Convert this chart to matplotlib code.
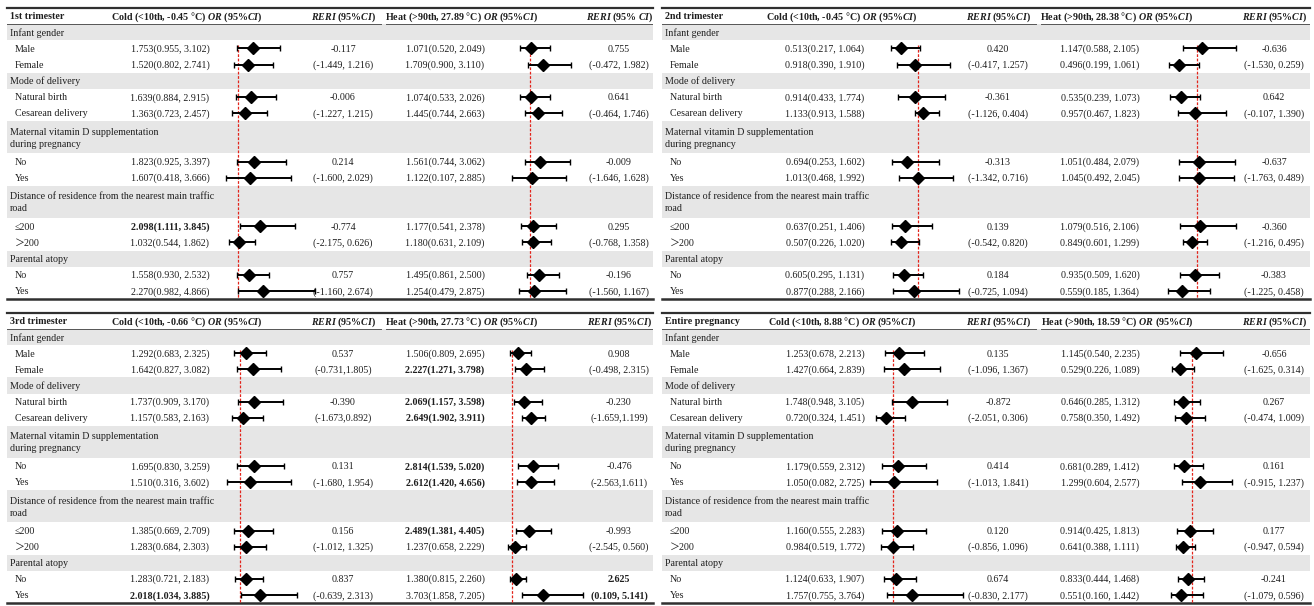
import numpy as np
import matplotlib
matplotlib.use("Agg")
import matplotlib.pyplot as plt

plt.rcParams['font.family'] = ['Liberation Serif', 'Noto Sans CJK SC']
plt.rcParams['mathtext.fontset'] = 'custom'
plt.rcParams['mathtext.it'] = 'Liberation Serif:italic:bold'
plt.rcParams['mathtext.rm'] = 'Liberation Serif:bold'

W, H = 1314, 606
FS = 7.2
INK = '#1e1e1e'

# row structure shared by all four tables
group_labels = ["Infant gender", "Mode of delivery",
                "Maternal vitamin D supplementation\nduring pregnancy",
                "Distance of residence from the nearest main traffic\nroad",
                "Parental atopy"]
group_rows = [1, 4, 7, 11, 15]
group_height = [1, 1, 2, 2, 1]
row_labels = ["Male", "Female", "Natural birth", "Cesarean delivery", "No", "Yes",
              "≤200", "＞200", "No", "Yes"]
data_rows = np.array([2, 3, 5, 6, 9, 10, 13, 14, 16, 17])
n_lines = 18

titles = ["1st trimester", "2nd trimester", "3rd trimester", "Entire pregnancy"]
cold_cut = ["-0.45", "-0.45", "-0.66", "8.88"]
heat_cut = ["27.89", "28.38", "27.73", "18.59"]

# OR, lower, upper
t1_cold = [[1.753, 0.955, 3.102], [1.520, 0.802, 2.741], [1.639, 0.884, 2.915],
           [1.363, 0.723, 2.457], [1.823, 0.925, 3.397], [1.607, 0.418, 3.666],
           [2.098, 1.111, 3.845], [1.032, 0.544, 1.862], [1.558, 0.930, 2.532],
           [2.270, 0.982, 4.866]]
t1_heat = [[1.071, 0.520, 2.049], [1.709, 0.900, 3.110], [1.074, 0.533, 2.026],
           [1.445, 0.744, 2.663], [1.561, 0.744, 3.062], [1.122, 0.107, 2.885],
           [1.177, 0.541, 2.378], [1.180, 0.631, 2.109], [1.495, 0.861, 2.500],
           [1.254, 0.479, 2.875]]
t2_cold = [[0.513, 0.217, 1.064], [0.918, 0.390, 1.910], [0.914, 0.433, 1.774],
           [1.133, 0.913, 1.588], [0.694, 0.253, 1.602], [1.013, 0.468, 1.992],
           [0.637, 0.251, 1.406], [0.507, 0.226, 1.020], [0.605, 0.295, 1.131],
           [0.877, 0.288, 2.166]]
t2_heat = [[1.147, 0.588, 2.105], [0.496, 0.199, 1.061], [0.535, 0.239, 1.073],
           [0.957, 0.467, 1.823], [1.051, 0.484, 2.079], [1.045, 0.492, 2.045],
           [1.079, 0.516, 2.106], [0.849, 0.601, 1.299], [0.935, 0.509, 1.620],
           [0.559, 0.185, 1.364]]
t3_cold = [[1.292, 0.683, 2.325], [1.642, 0.827, 3.082], [1.737, 0.909, 3.170],
           [1.157, 0.583, 2.163], [1.695, 0.830, 3.259], [1.510, 0.316, 3.602],
           [1.385, 0.669, 2.709], [1.283, 0.684, 2.303], [1.283, 0.721, 2.183],
           [2.018, 1.034, 3.885]]
t3_heat = [[1.506, 0.809, 2.695], [2.227, 1.271, 3.798], [2.069, 1.157, 3.598],
           [2.649, 1.902, 3.911], [2.814, 1.539, 5.020], [2.612, 1.420, 4.656],
           [2.489, 1.381, 4.405], [1.237, 0.658, 2.229], [1.380, 0.815, 2.260],
           [3.703, 1.858, 7.205]]
t4_cold = [[1.253, 0.678, 2.213], [1.427, 0.664, 2.839], [1.748, 0.948, 3.105],
           [0.720, 0.324, 1.451], [1.179, 0.559, 2.312], [1.050, 0.082, 2.725],
           [1.160, 0.555, 2.283], [0.984, 0.519, 1.772], [1.124, 0.633, 1.907],
           [1.757, 0.755, 3.764]]
t4_heat = [[1.145, 0.540, 2.235], [0.529, 0.226, 1.089], [0.646, 0.285, 1.312],
           [0.758, 0.350, 1.492], [0.681, 0.289, 1.412], [1.299, 0.604, 2.577],
           [0.914, 0.425, 1.813], [0.641, 0.388, 1.111], [0.833, 0.444, 1.468],
           [0.551, 0.160, 1.442]]

# rows printed in bold
t1_cold_bold = [6]
t3_cold_bold = [9]
t3_heat_bold = [1, 2, 3, 4, 5, 6]

# RERI per group: estimate, CI text
t1_cold_reri = [("-0.117", "(-1.449, 1.216)"), ("-0.006", "(-1.227, 1.215)"),
                ("0.214", "(-1.600, 2.029)"), ("-0.774", "(-2.175, 0.626)"),
                ("0.757", "(-1.160, 2.674)")]
t1_heat_reri = [("0.755", "(-0.472, 1.982)"), ("0.641", "(-0.464, 1.746)"),
                ("-0.009", "(-1.646, 1.628)"), ("0.295", "(-0.768, 1.358)"),
                ("-0.196", "(-1.560, 1.167)")]
t2_cold_reri = [("0.420", "(-0.417, 1.257)"), ("-0.361", "(-1.126, 0.404)"),
                ("-0.313", "(-1.342, 0.716)"), ("0.139", "(-0.542, 0.820)"),
                ("0.184", "(-0.725, 1.094)")]
t2_heat_reri = [("-0.636", "(-1.530, 0.259)"), ("0.642", "(-0.107, 1.390)"),
                ("-0.637", "(-1.763, 0.489)"), ("-0.360", "(-1.216, 0.495)"),
                ("-0.383", "(-1.225, 0.458)")]
t3_cold_reri = [("0.537", "(-0.731,1.805)"), ("-0.390", "(-1.673,0.892)"),
                ("0.131", "(-1.680, 1.954)"), ("0.156", "(-1.012, 1.325)"),
                ("0.837", "(-0.639, 2.313)")]
t3_heat_reri = [("0.908", "(-0.498, 2.315)"), ("-0.230", "(-1.659,1.199)"),
                ("-0.476", "(-2.563,1.611)"), ("-0.993", "(-2.545, 0.560)"),
                ("2.625", "(0.109, 5.141)")]
t4_cold_reri = [("0.135", "(-1.096, 1.367)"), ("-0.872", "(-2.051, 0.306)"),
                ("0.414", "(-1.013, 1.841)"), ("0.120", "(-0.856, 1.096)"),
                ("0.674", "(-0.830, 2.177)")]
t4_heat_reri = [("-0.656", "(-1.625, 0.314)"), ("0.267", "(-0.474, 1.009)"),
                ("0.161", "(-0.915, 1.237)"), ("0.177", "(-0.947, 0.594)"),
                ("-0.241", "(-1.079, 0.596)")]
t3_heat_reri_bold = [4]


def px_rect(x0, y0, x1, y1):
    return [x0 / W, 1 - y1 / H, (x1 - x0) / W, (y1 - y0) / H]


def forest(fig, rect, x0, x1, ref, scale, est):
    # OR = 1 sits at pixel `ref`, `scale` pixels per unit of OR
    ax = fig.add_axes(rect)
    ax.set_xlim(1 - (ref - x0) / scale, 1 + (x1 - ref) / scale)
    ax.set_ylim(n_lines, 0)
    ax.axis('off')
    ax.patch.set_visible(False)
    est = np.array(est)
    ax.vlines(1, 2.3, n_lines, colors='#e3241b', linestyles=(0, (2.2, 1.3)), lw=0.9)
    ax.errorbar(est[:, 0], data_rows + 0.5,
                xerr=[est[:, 0] - est[:, 1], est[:, 2] - est[:, 0]],
                fmt='D', ms=5.8, color='black', elinewidth=1.4,
                capsize=2.2, capthick=1.0)
    return ax


def draw_table(fig, box, title, ccut, hcut, cold, heat, cold_reri, heat_reri,
               cold_ref, heat_ref, cold_bold=(), heat_bold=(), reri_bold=(),
               heat_reri_head=r"$\mathit{RERI}$ (95%$\mathit{CI}$)"):
    x0, y0, x1, y1 = box
    w = x1 - x0
    rect = px_rect(x0, y0, x1, y1)
    ax = fig.add_axes(rect)
    ax.set_xlim(0, w)
    ax.set_ylim(n_lines, 0)
    ax.axis('off')

    for g, h in zip(group_rows, group_height):
        ax.axhspan(g, g + h, color='#e6e6e6', lw=0)
    ax.plot([0, w], [0, 0], color='#303030', lw=1.6, clip_on=False)
    ax.plot([0, w], [n_lines, n_lines], color='#303030', lw=1.8, clip_on=False)
    ax.plot([0, 374], [1, 1], color='#555555', lw=0.7)
    ax.plot([379, w], [1, 1], color='#555555', lw=0.7)

    ax.text(3, 0.55, title, fontsize=FS, fontweight='bold', va='center', color=INK)
    ax.text(180, 0.55, r"Cold (<10th, %s °C) $\mathit{OR}$ (95%%$\mathit{CI}$)" % ccut,
            fontsize=FS, fontweight='bold', ha='center', va='center', color=INK)
    ax.text(337, 0.55, r"$\mathit{RERI}$ (95%$\mathit{CI}$)", fontsize=FS,
            fontweight='bold', ha='center', va='center', color=INK)
    ax.text(455, 0.55, r"Heat (>90th, %s °C) $\mathit{OR}$ (95%%$\mathit{CI}$)" % hcut,
            fontsize=FS, fontweight='bold', ha='center', va='center', color=INK)
    ax.text(613, 0.55, heat_reri_head, fontsize=FS, fontweight='bold',
            ha='center', va='center', color=INK)

    for lab, g, h in zip(group_labels, group_rows, group_height):
        ax.text(3, g + h / 2 + 0.05, lab, fontsize=FS, va='center',
                linespacing=1.45, color=INK)
    for i, (lab, r) in enumerate(zip(row_labels, data_rows)):
        ax.text(8, r + 0.55, lab, fontsize=FS, va='center', color=INK)
        c = cold[i]
        ax.text(163, r + 0.55, "%.3f(%.3f, %.3f)" % tuple(c), fontsize=FS,
                ha='center', va='center', color=INK,
                fontweight='bold' if i in cold_bold else 'normal')
        hh = heat[i]
        ax.text(438, r + 0.55, "%.3f(%.3f, %.3f)" % tuple(hh), fontsize=FS,
                ha='center', va='center', color=INK,
                fontweight='bold' if i in heat_bold else 'normal')

    for k in range(5):
        r = data_rows[2 * k]
        for xc, reri, bold in ((336, cold_reri, ()), (612, heat_reri, reri_bold)):
            wt = 'bold' if k in bold else 'normal'
            ax.text(xc, r + 0.55, reri[k][0], fontsize=FS, ha='center',
                    va='center', color=INK, fontweight=wt)
            ax.text(xc, r + 1.55, reri[k][1], fontsize=FS, ha='center',
                    va='center', color=INK, fontweight=wt)

    forest(fig, rect, x0, x1, cold_ref[0], cold_ref[1], cold)
    forest(fig, rect, x0, x1, heat_ref[0], heat_ref[1], heat)


fig = plt.figure(figsize=(W / 100, H / 100), dpi=100)

draw_table(fig, (7, 8, 653, 299), titles[0], cold_cut[0], heat_cut[0],
           t1_cold, t1_heat, t1_cold_reri, t1_heat_reri, (238, 20.0), (529.5, 19.5),
           cold_bold=t1_cold_bold,
           heat_reri_head=r"$\mathit{RERI}$ (95% $\mathit{CI}$)")
draw_table(fig, (662, 8, 1310, 299), titles[1], cold_cut[1], heat_cut[1],
           t2_cold, t2_heat, t2_cold_reri, t2_heat_reri, (918, 35.0), (1197, 35.0))
draw_table(fig, (7, 313, 653, 603), titles[2], cold_cut[2], heat_cut[2],
           t3_cold, t3_heat, t3_cold_reri, t3_heat_reri, (240, 19.6), (512, 11.5),
           cold_bold=t3_cold_bold, heat_bold=t3_heat_bold,
           reri_bold=t3_heat_reri_bold)
draw_table(fig, (662, 313, 1310, 603), titles[3], cold_cut[3], heat_cut[3],
           t4_cold, t4_heat, t4_cold_reri, t4_heat_reri, (893, 25.5), (1192, 25.5))

fig.savefig("out.png", dpi=100, facecolor='white')
